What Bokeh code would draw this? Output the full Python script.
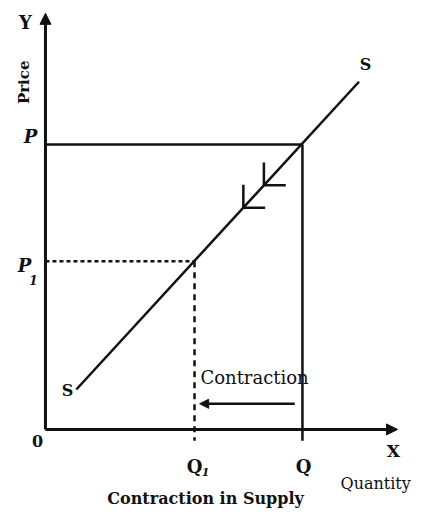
import numpy as np
from bokeh.plotting import figure
from bokeh.models import Range1d, Arrow, NormalHead, Label
from bokeh.embed import file_html
from bokeh.resources import INLINE

# ---- data (quantity, price in arbitrary units) ----
supply_q = [12, 122]
supply_p = [14, 122]
P, P1 = 100, 59
Q, Q1 = 100, 58
x_axis_end = 137
y_axis_end = 146
arrow_q = [77, 85]          # direction markers on the supply curve
contraction_p = 9
contraction_from = 97
contraction_to = 60

INK = "#111111"
FONT = "DejaVu Serif"

p = figure(width=414, height=509,
           x_range=Range1d(-17.5, 143.6), y_range=Range1d(-28.1, 150.5),
           x_axis_type=None, y_axis_type=None, min_border=0,
           outline_line_color=None, output_backend="svg",
           toolbar_location=None)
p.grid.visible = False

# axes with arrows
p.add_layout(Arrow(end=NormalHead(size=11, fill_color=INK, line_color=INK),
                   x_start=0, y_start=0, x_end=x_axis_end, y_end=0,
                   line_width=3, line_color=INK))
p.add_layout(Arrow(end=NormalHead(size=11, fill_color=INK, line_color=INK),
                   x_start=0, y_start=0, x_end=0, y_end=y_axis_end,
                   line_width=3, line_color=INK))

# price / quantity guides
p.line([0, Q], [P, P], line_width=2.5, line_color=INK)
p.line([Q, Q], [P, -4], line_width=2.5, line_color=INK)
p.line([0, Q1], [P1, P1], line_width=2.5, line_color=INK, line_dash="4 3")
p.line([Q1, Q1], [P1, -4], line_width=2.5, line_color=INK, line_dash="6 5")

# supply curve
p.line(supply_q, supply_p, line_width=2.5, line_color=INK)

# direction chevrons on the supply curve
xs, ys = [], []
for aq in arrow_q:
    ap = float(np.interp(aq, supply_q, supply_p))
    xs += [[aq, aq], [aq, aq + 8.5]]
    ys += [[ap, ap + 8], [ap, ap]]
p.multi_line(xs, ys, line_width=2.5, line_color=INK)

# contraction arrow
p.add_layout(Arrow(end=NormalHead(size=9, fill_color=INK, line_color=INK),
                   x_start=contraction_from, y_start=contraction_p,
                   x_end=contraction_to, y_end=contraction_p,
                   line_width=2.5, line_color=INK))


def lab(x, y, text, size, style="normal", align="center", angle=0, baseline="middle"):
    p.add_layout(Label(x=x, y=y, text=text, text_font=FONT,
                       text_font_size=f"{size}px", text_font_style=style,
                       text_align=align, text_baseline=baseline,
                       text_color=INK, angle=angle))

lab(-7.8, 142.8, "Y", 18, "bold")
lab(-8.2, 121.8, "Price", 15, "bold", angle=np.pi / 2)
lab(-5.8, P + 2.8, "P", 18, "bold italic")
lab(-8.2, P1 - 1.5, "P", 18, "bold italic")
lab(-4.7, P1 - 6.7, "1", 12, "bold italic")
lab(-3.1, -3.9, "0", 16, "bold")
lab(8.6, 13.7, "S", 16, "bold")
lab(124.5, 128.1, "S", 16, "bold")
lab(Q1, -13, "Q", 18, "bold")
lab(Q1 + 4.3, -15.1, "1", 11, "bold italic")
lab(Q + 0.4, -13, "Q", 18, "bold")
lab(135.4, -7.7, "X", 17, "bold")
lab(128.5, -18.9, "Quantity", 16, "normal")
lab(contraction_to + 0.3, contraction_p + 9.2, "Contraction", 18, "normal", align="left")
lab(62.3, -24.2, "Contraction in Supply", 16, "bold")

open("out.html", "w").write(file_html(p, INLINE))
